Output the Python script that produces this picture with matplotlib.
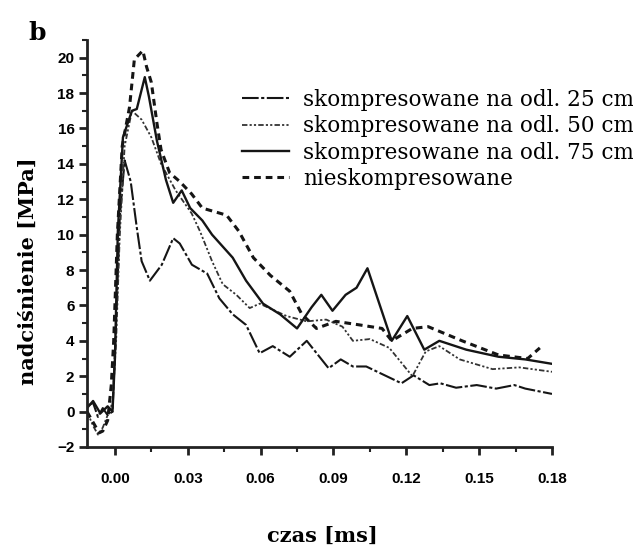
import matplotlib
matplotlib.use("Agg")
import matplotlib.pyplot as plt
from matplotlib.ticker import MultipleLocator

# Data (time in ms, overpressure in MPa)
x_25 = [-0.0115, -0.009, -0.007, -0.005, -0.003, -0.001, 0.0005, 0.002, 0.004, 0.0065, 0.009, 0.011,
        0.0144, 0.0193, 0.024, 0.0267, 0.0317, 0.038, 0.043, 0.0485, 0.054, 0.0596, 0.065, 0.072,
        0.079, 0.088, 0.093, 0.098, 0.1035, 0.118, 0.123, 0.1295, 0.134, 0.1405, 0.149, 0.157,
        0.1645, 0.169, 0.18]
y_25 = [0.3, 0.5, -0.3, 0.2, -0.2, 0.0, 5.0, 11.0, 14.2, 13.0, 10.4, 8.5,
        7.4, 8.3, 9.8, 9.5, 8.3, 7.8, 6.4, 5.5, 4.9, 3.3, 3.7, 3.1,
        4.0, 2.45, 2.95, 2.55, 2.55, 1.6, 2.05, 1.5, 1.6, 1.35, 1.5, 1.3,
        1.5, 1.3, 1.0]

x_50 = [-0.0115, -0.009, -0.007, -0.005, -0.003, -0.001, 0.0005, 0.002, 0.004, 0.007, 0.011, 0.015,
        0.019, 0.025, 0.0316, 0.035, 0.040, 0.0444, 0.050, 0.0555, 0.0596, 0.0707, 0.079, 0.087,
        0.0937, 0.098, 0.105, 0.113, 0.1225, 0.128, 0.1336, 0.142, 0.1555, 0.1665, 0.18]
y_50 = [0.0, -0.8, -1.3, -0.9, -0.2, 0.5, 4.0, 10.0, 15.0, 17.0, 16.5, 15.5,
        14.0, 12.5, 11.2, 10.2, 8.5, 7.2, 6.6, 5.85, 6.1, 5.4, 5.1, 5.2,
        4.8, 4.0, 4.1, 3.6, 2.0, 3.4, 3.7, 2.95, 2.4, 2.5, 2.25]

x_75 = [-0.0115, -0.009, -0.006, -0.003, -0.001, 0.0, 0.0012, 0.0033, 0.007, 0.009, 0.0123, 0.014,
        0.0173, 0.021, 0.024, 0.0275, 0.031, 0.036, 0.040, 0.0485, 0.054, 0.061, 0.068, 0.075,
        0.081, 0.085, 0.0896, 0.095, 0.0995, 0.104, 0.114, 0.1204, 0.1274, 0.1336, 0.1447, 0.158,
        0.169, 0.18]
y_75 = [0.2, 0.6, -0.1, 0.3, 0.0, 3.0, 10.2, 15.5, 17.0, 17.1, 18.9, 17.8,
        15.3, 13.1, 11.8, 12.5, 11.5, 10.8, 10.0, 8.7, 7.4, 6.1, 5.5, 4.7,
        5.9, 6.6, 5.7, 6.6, 7.0, 8.1, 4.0, 5.4, 3.5, 4.0, 3.5, 3.1,
        2.95, 2.7]

x_nk = [-0.0115, -0.009, -0.0065, -0.005, -0.003, -0.0015, -0.0005, 0.001, 0.003, 0.006, 0.008, 0.0115,
        0.013, 0.015, 0.0173, 0.019, 0.0225, 0.0267, 0.0316, 0.036, 0.041, 0.046, 0.051, 0.057,
        0.064, 0.072, 0.077, 0.083, 0.091, 0.1007, 0.110, 0.114, 0.1225, 0.129, 0.143, 0.158,
        0.170, 0.175]
y_nk = [0.0, -0.6, -1.2, -1.1, -0.5, 1.5, 4.0, 10.0, 15.0, 17.2, 19.9, 20.4,
        19.5, 18.6, 16.3, 14.8, 13.5, 13.0, 12.3, 11.5, 11.3, 11.1, 10.2, 8.7,
        7.7, 6.8, 5.5, 4.7, 5.1, 4.9, 4.7, 4.0, 4.7, 4.8, 4.0, 3.2,
        3.0, 3.6]

labels = ["skompresowane na odl. 25 cm", "skompresowane na odl. 50 cm",
          "skompresowane na odl. 75 cm", "nieskompresowane"]
xticks = [0, 0.03, 0.06, 0.09, 0.12, 0.15, 0.18]
xtick_labels = ["0.00", "0.03", "0.06", "0.09", "0.12", "0.15", "0.18"]

fig = plt.figure(figsize=(6.33, 5.47), dpi=100)
ax = fig.add_axes([87/633, 1 - 447/547, (552 - 87)/633, (447 - 40)/547])

c = "#151515"
ax.plot(x_25, y_25, c=c, lw=1.5, ls=(0, (8, 1.2, 1.5, 1.2)), label=labels[0])
ax.plot(x_50, y_50, c="#333333", lw=1.3, ls=(0, (3, 1.2, 1.2, 1.2, 1.2, 1.2)), label=labels[1])
ax.plot(x_75, y_75, c=c, lw=1.7, ls="-", label=labels[2])
ax.plot(x_nk, y_nk, c=c, lw=2.2, ls=(0, (2.2, 1.6)), label=labels[3])

ax.set_xlim(-0.0115, 0.18)
ax.set_ylim(-2, 21)
ax.xaxis.set_minor_locator(MultipleLocator(0.015))
ax.yaxis.set_major_locator(MultipleLocator(2))
ax.yaxis.set_minor_locator(MultipleLocator(1))
ax.set_xticks(xticks)
ax.set_xticklabels(xtick_labels)

for s in ["top", "right"]:
    ax.spines[s].set_visible(False)
for s in ["left", "bottom"]:
    ax.spines[s].set_linewidth(2)
    ax.spines[s].set_color("#222222")

ax.tick_params(which="major", direction="out", length=6, width=2, color="#222222")
ax.tick_params(which="minor", direction="out", length=3.5, width=1.5, color="#222222")
ax.tick_params(axis="x", which="major", pad=12)
ax.tick_params(axis="y", which="major", pad=3)
for lab in ax.get_xticklabels() + ax.get_yticklabels():
    lab.set_fontfamily("Liberation Sans")
    lab.set_fontweight("bold")
    lab.set_fontsize(11)

ax.set_xlabel("czas [ms]", fontfamily="DejaVu Serif", fontweight="bold", fontsize=15)
ax.xaxis.set_label_coords((322 - 87)/465, (447 - 526)/407)
ax.set_ylabel("nadciśnienie [MPa]", fontfamily="DejaVu Serif", fontweight="bold", fontsize=15)
ax.yaxis.set_label_coords((38 - 87)/465, (447 - 271)/407)

fig.text(28/633, 1 - 40/547, "b", fontfamily="DejaVu Serif", fontweight="bold", fontsize=18)

leg = ax.legend(loc="upper left", bbox_to_anchor=(242/633, 1 - 89/547), bbox_transform=fig.transFigure,
                frameon=False, handlelength=2.2, handletextpad=0.65, labelspacing=0.2, borderpad=0,
                borderaxespad=0, prop={"family": "DejaVu Serif", "size": 15.5})

plt.savefig("out.png", dpi=100)
